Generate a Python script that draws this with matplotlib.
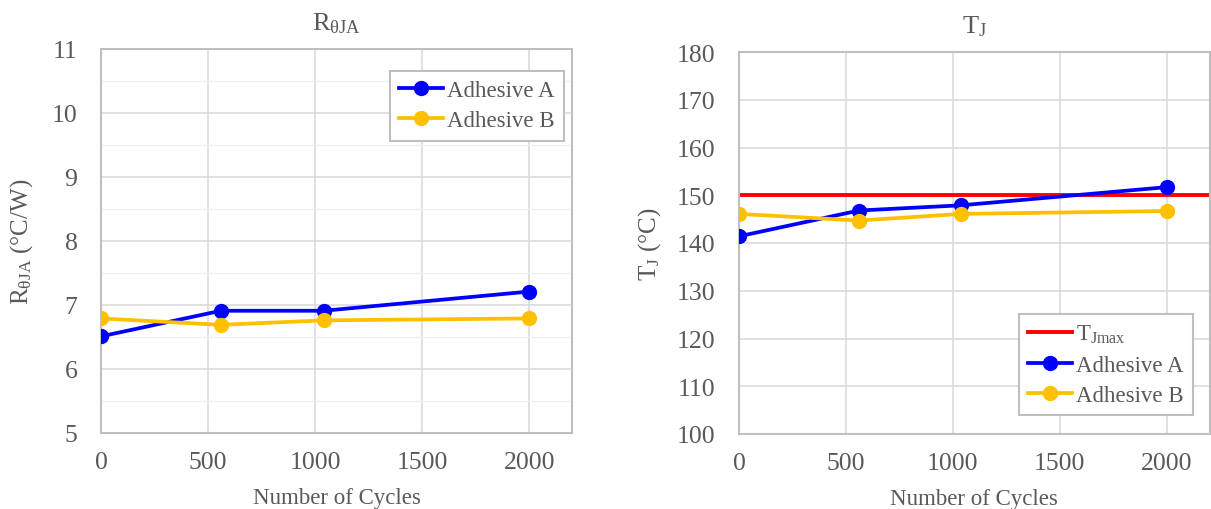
import matplotlib
matplotlib.use("Agg")
import matplotlib.pyplot as plt
from matplotlib.ticker import MultipleLocator

plt.rcParams['font.family'] = ['Liberation Serif', 'DejaVu Serif']
plt.rcParams['mathtext.fontset'] = 'custom'
plt.rcParams['mathtext.rm'] = 'Liberation Serif'
plt.rcParams['mathtext.it'] = 'Liberation Serif:italic'

# Thermal cycling results
cycles = [0, 560, 1040, 2000]
rja_a = [6.51, 6.91, 6.91, 7.21]
rja_b = [6.79, 6.69, 6.76, 6.79]
tj_a = [141.4, 146.8, 147.9, 151.7]
tj_b = [146.1, 144.7, 146.1, 146.7]
tj_max = 150

BLUE = '#0000FF'
GOLD = '#FFC000'
RED = '#FF0000'
TEXT = '#595959'
SPINE = '#BFBFBF'
GRID = '#D9D9D9'

W, H = 1211, 510
fig = plt.figure(figsize=(W / 100, H / 100), dpi=100)


def frac(x0, y0, x1, y1):
    return [x0 / W, 1 - y1 / H, (x1 - x0) / W, (y1 - y0) / H]


ax1 = fig.add_axes(frac(101, 50, 572, 434))
ax2 = fig.add_axes(frac(739, 53, 1209.5, 435))

line_kw = dict(lw=2.7, marker='o', ms=10, zorder=3)


def style(ax, ylim, major, minor=None):
    ax.set_xlim(0, 2200)
    ax.set_ylim(*ylim)
    ax.xaxis.set_major_locator(MultipleLocator(500))
    ax.yaxis.set_major_locator(MultipleLocator(major))
    if minor:
        ax.yaxis.set_minor_locator(MultipleLocator(minor))
        ax.grid(True, which='minor', axis='y', color='#F0F0F0', lw=1.0)
        ax.tick_params(which='minor', length=0)
    ax.grid(True, which='major', color=GRID, lw=1.1)
    ax.set_axisbelow(True)
    for s in ax.spines.values():
        s.set_color(SPINE)
        s.set_linewidth(1.5)
    ax.tick_params(axis='both', which='major', length=0, labelsize=18.5,
                   labelcolor=TEXT)
    ax.tick_params(axis='x', pad=13)
    ax.tick_params(axis='y', pad=17)
    ax.set_xlabel('Number of Cycles', fontsize=16.5, color=TEXT, labelpad=10)


def legend(ax, **kw):
    leg = ax.legend(bbox_transform=fig.transFigure, borderaxespad=0,
                    fontsize=16.5, fancybox=False, edgecolor=SPINE,
                    framealpha=1, handlelength=1.9, handletextpad=0.2,
                    labelspacing=0.4, borderpad=0.4, **kw)
    leg.get_frame().set_linewidth(1.5)
    for t in leg.get_texts():
        t.set_color(TEXT)
    return leg


# Left panel: junction-to-ambient thermal resistance
ax1.plot(cycles, rja_a, color=BLUE, label='Adhesive A', **line_kw)
ax1.plot(cycles, rja_b, color=GOLD, label='Adhesive B', **line_kw)
style(ax1, (5, 11), 1, 0.5)
ax1.set_title(r'R$_\mathrm{θJA}$', fontsize=19, color=TEXT, pad=14)
ax1.set_ylabel(r'R$_\mathrm{θJA}$ (°C/W)', fontsize=18, color=TEXT, labelpad=12)
legend(ax1, loc='upper right', bbox_to_anchor=(564 / W, 1 - 72 / H))

# Right panel: junction temperature vs. rated maximum
ax2.axhline(tj_max, color=RED, lw=2.8, zorder=2, label=r'T$_\mathrm{Jmax}$')
ax2.plot(cycles, tj_a, color=BLUE, label='Adhesive A', **line_kw)
ax2.plot(cycles, tj_b, color=GOLD, label='Adhesive B', **line_kw)
style(ax2, (100, 180), 10)
ax2.set_title(r'T$_\mathrm{J}$', fontsize=19, color=TEXT, pad=14)
ax2.set_ylabel(r'T$_\mathrm{J}$ (°C)', fontsize=18, color=TEXT, labelpad=10)
legend(ax2, loc='lower right', bbox_to_anchor=(1193 / W, 1 - 416 / H))

fig.savefig('out.png', dpi=100)
